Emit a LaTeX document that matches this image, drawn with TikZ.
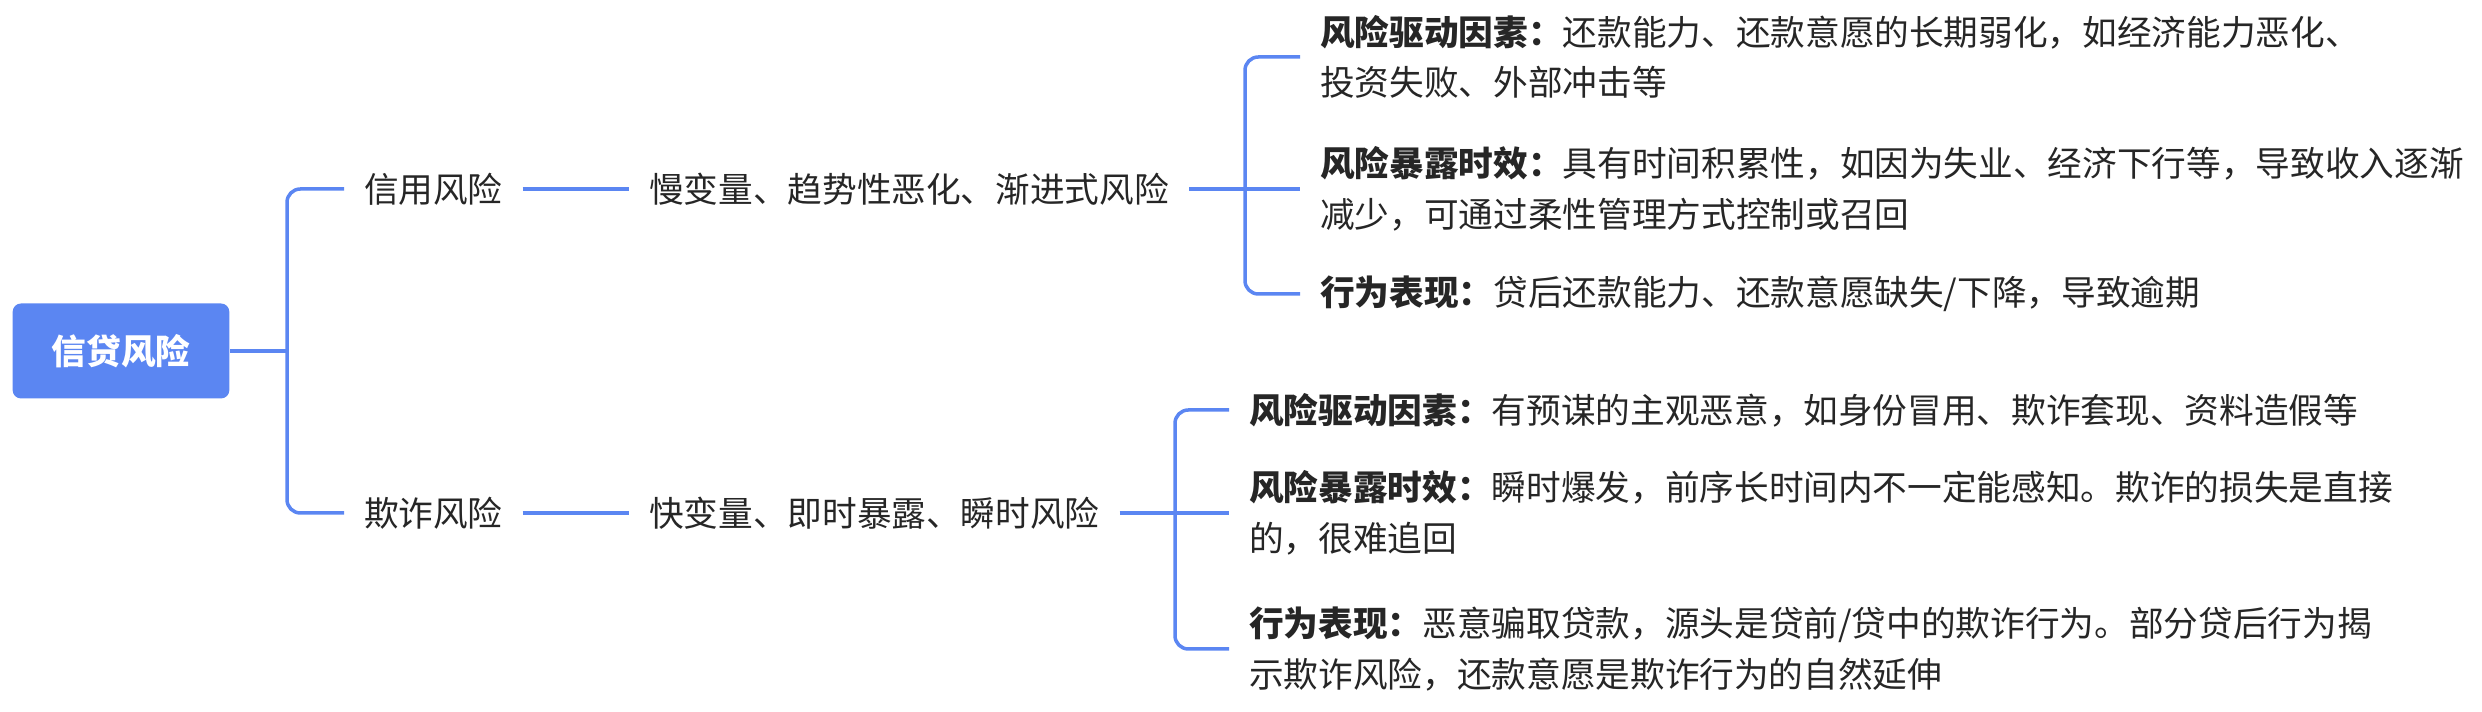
\documentclass[tikz,border=0pt]{standalone}
\usepackage{fontspec}
\setmainfont{Noto Sans CJK SC}
\definecolor{mblue}{HTML}{5B86F2}
\definecolor{txt}{HTML}{262626}
\begin{document}
\begin{tikzpicture}[x=0.3pt,y=-0.3pt,
  every node/.style={font=\fontsize{10.4}{15.2}\selectfont, text=txt, inner sep=0pt, align=left},
  topic/.style={anchor=west, outer xsep=6pt, outer ysep=0pt},
  rootbox/.style={fill=mblue, rounded corners=2.5pt, minimum width=65pt, minimum height=28.5pt, text=white, font=\fontsize{10.4}{15.2}\selectfont\bfseries},
  link/.style={draw=mblue, line width=1.05pt, rounded corners=4pt}]
\useasboundingbox (0,0) rectangle (2482,712);

\node[rootbox] (root) at (121,351) {信贷风险};
\coordinate (jr) at (287,351);

\node[topic] (credit) at (344,189) {信用风险};
\node[topic] (fraud) at (344,513) {欺诈风险};

\node[topic] (slow) at (629,189) {慢变量、趋势性恶化、渐进式风险};
\node[topic] (fast) at (629,513) {快变量、即时暴露、瞬时风险};

\coordinate (j2) at (1245,189);
\coordinate (j3) at (1175,513);

\node[topic] (a1) at (1300,57) {\textbf{风险驱动因素：}还款能力、还款意愿的长期弱化，如经济能力恶化、\\投资失败、外部冲击等};
\node[topic] (a2) at (1300,189) {\textbf{风险暴露时效：}具有时间积累性，如因为失业、经济下行等，导致收入逐渐\\减少，可通过柔性管理方式控制或召回};
\node[topic] (a3) at (1300,294) {\textbf{行为表现：}贷后还款能力、还款意愿缺失/下降，导致逾期};

\node[topic] (b1) at (1229,410) {\textbf{风险驱动因素：}有预谋的主观恶意，如身份冒用、欺诈套现、资料造假等};
\node[topic] (b2) at (1229,513) {\textbf{风险暴露时效：}瞬时爆发，前序长时间内不一定能感知。欺诈的损失是直接\\的，很难追回};
\node[topic] (b3) at (1229,649) {\textbf{行为表现：}恶意骗取贷款，源头是贷前/贷中的欺诈行为。部分贷后行为揭\\示欺诈风险，还款意愿是欺诈行为的自然延伸};

\draw[link] (root.east) -- (jr);
\draw[link] (jr) |- (credit.west);
\draw[link] (jr) |- (fraud.west);

\draw[link] (credit.east) -- (slow.west);
\draw[link] (fraud.east) -- (fast.west);

\draw[link] (slow.east) -- (j2);
\draw[link] (j2) |- (a1.west);
\draw[link] (j2) -- (a2.west);
\draw[link] (j2) |- (a3.west);

\draw[link] (fast.east) -- (j3);
\draw[link] (j3) |- (b1.west);
\draw[link] (j3) -- (b2.west);
\draw[link] (j3) |- (b3.west);
\end{tikzpicture}
\end{document}
